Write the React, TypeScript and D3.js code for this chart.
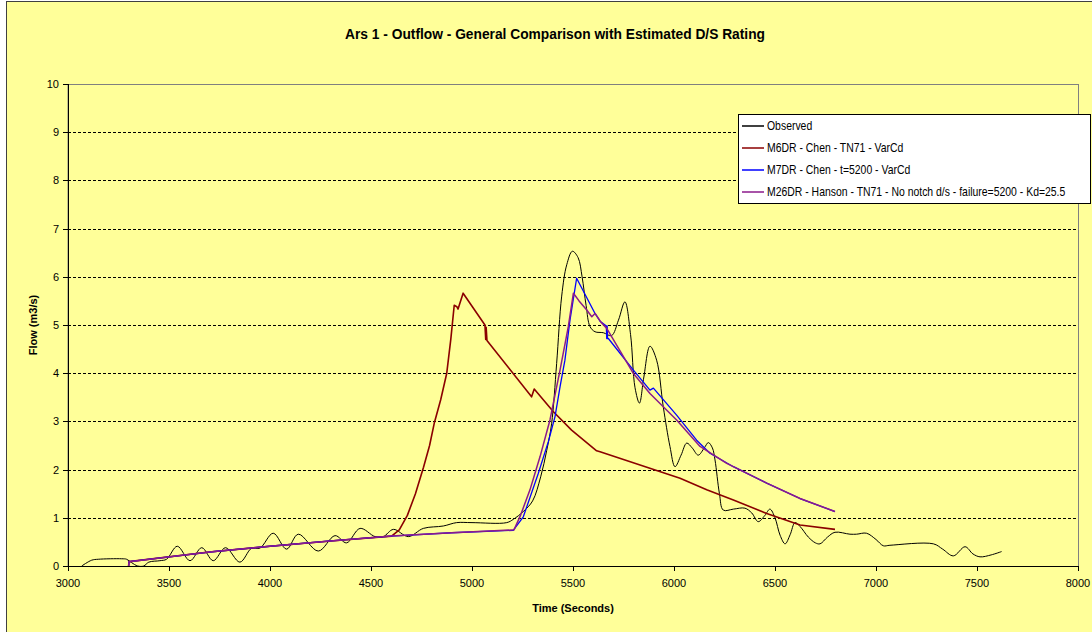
import React from 'react';
import * as d3 from 'd3';

// ---- data ----
const title = 'Ars 1 - Outflow - General Comparison with Estimated D/S Rating';
const xLabel = 'Time (Seconds)';
const yLabel = 'Flow (m3/s)';
const xTicks = [3000, 3500, 4000, 4500, 5000, 5500, 6000, 6500, 7000, 7500, 8000];
const yTicks = [0, 1, 2, 3, 4, 5, 6, 7, 8, 9, 10];
const seriesNames = [
  'Observed',
  'M6DR - Chen - TN71 - VarCd',
  'M7DR - Chen - t=5200 - VarCd',
  'M26DR - Hanson - TN71 - No notch d/s - failure=5200 - Kd=25.5',
];

const observed: [number, number][] = [
  [3068, 0], [3117, 0.12], [3150, 0.14], [3266, 0.15], [3290, 0.14], [3315, 0.07], [3345, 0.0],
  [3375, 0.0], [3400, 0.08], [3455, 0.11], [3488, 0.14], [3541, 0.41], [3604, 0.11], [3662, 0.38],
  [3719, 0.11], [3780, 0.38], [3851, 0.08], [3909, 0.37], [3950, 0.37], [4016, 0.68], [4082, 0.35],
  [4140, 0.66], [4239, 0.31], [4322, 0.63], [4379, 0.48], [4446, 0.78], [4520, 0.61], [4561, 0.61],
  [4611, 0.76], [4685, 0.61], [4759, 0.78], [4858, 0.83], [4924, 0.9], [5000, 0.9], [5172, 0.9],
  [5205, 0.97], [5254, 1.13], [5300, 1.35], [5340, 1.85], [5370, 2.4], [5394, 2.95], [5419, 4.2],
  [5444, 5.6], [5469, 6.25], [5497, 6.53], [5525, 6.4], [5545, 6.0], [5565, 5.4], [5584, 4.97],
  [5609, 4.86], [5650, 4.84], [5691, 4.78], [5725, 5.1], [5757, 5.48], [5785, 4.8], [5807, 3.7],
  [5829, 3.38], [5850, 3.9], [5881, 4.56], [5914, 4.27], [5947, 3.3], [5980, 2.48], [6005, 2.06],
  [6035, 2.3], [6063, 2.55], [6090, 2.45], [6120, 2.3], [6150, 2.45], [6170, 2.56], [6190, 2.45],
  [6203, 2.2], [6225, 1.5], [6244, 1.16], [6294, 1.18], [6351, 1.2], [6385, 1.1], [6417, 0.92],
  [6450, 1.05], [6475, 1.18], [6500, 1.0], [6525, 0.64], [6550, 0.46], [6575, 0.65], [6599, 0.9],
  [6624, 0.82], [6665, 0.6], [6700, 0.48], [6723, 0.46], [6760, 0.6], [6797, 0.7], [6871, 0.66],
  [6904, 0.66], [6953, 0.68], [7000, 0.55], [7036, 0.42], [7069, 0.43], [7284, 0.46], [7330, 0.35],
  [7383, 0.21], [7441, 0.4], [7480, 0.25], [7515, 0.19], [7570, 0.23], [7622, 0.3],
];

const m6dr: [number, number][] = [
  [3300, 0], [3302, 0.09], [3700, 0.29], [4000, 0.41], [4300, 0.52], [4602, 0.62], [4640, 0.75],
  [4680, 1.05], [4720, 1.5], [4760, 2.05], [4790, 2.5], [4813, 2.96], [4845, 3.45], [4875, 4.0],
  [4895, 4.7], [4912, 5.41], [4925, 5.38], [4931, 5.33], [4940, 5.45], [4956, 5.66], [5064, 5.0],
  [5068, 4.7], [5070, 4.95], [5074, 4.68], [5295, 3.51], [5308, 3.67], [5403, 3.2], [5493, 2.82],
  [5617, 2.39], [5634, 2.37], [6030, 1.82], [6162, 1.58], [6294, 1.37], [6459, 1.09], [6624, 0.85],
  [6797, 0.76],
];

const m7dr: [number, number][] = [
  [3300, 0], [3302, 0.09], [3700, 0.29], [4000, 0.41], [4300, 0.52], [4600, 0.62], [4900, 0.69],
  [5204, 0.74], [5254, 1.02], [5328, 1.92], [5378, 2.58], [5411, 3.1], [5436, 3.72], [5460, 4.27],
  [5485, 5.1], [5518, 5.97], [5609, 5.24], [5634, 5.08], [5665, 4.98], [5667, 4.72], [5669, 4.98],
  [5671, 4.72], [5675, 4.72], [5798, 4.07], [5881, 3.65], [5898, 3.69], [6013, 3.13], [6112, 2.61],
  [6178, 2.34], [6294, 2.06], [6459, 1.72], [6624, 1.4], [6797, 1.13],
];

const m26dr: [number, number][] = [
  [3300, 0], [3302, 0.09], [3700, 0.29], [4000, 0.41], [4300, 0.52], [4600, 0.62], [4900, 0.69],
  [5208, 0.75], [5240, 1.05], [5287, 1.58], [5337, 2.27], [5386, 3.03], [5436, 4.07], [5477, 4.97],
  [5502, 5.66], [5530, 5.5], [5568, 5.31], [5593, 5.17], [5609, 5.24], [5640, 5.05], [5667, 4.93],
  [5798, 4.0], [5881, 3.58], [6013, 3.03], [6129, 2.48], [6261, 2.13], [6459, 1.72], [6624, 1.4],
  [6797, 1.13],
];

const seriesColors = ['#000000', '#8b0000', '#0000ff', '#8b1a8b'];

// ---- layout ----
const W = 1092;
const H = 632;
const plot = { left: 68, right: 1078, top: 84, bottom: 566 };
const font = "'Liberation Sans', Arial, sans-serif";

export default function App() {
  const x = d3.scaleLinear().domain([3000, 8000]).range([plot.left, plot.right]);
  const y = d3.scaleLinear().domain([0, 10]).range([plot.bottom, plot.top]);

  const smooth = d3
    .line<[number, number]>()
    .x((d) => x(d[0]))
    .y((d) => y(d[1]))
    .curve(d3.curveCatmullRom.alpha(0.5));
  const straight = d3
    .line<[number, number]>()
    .x((d) => x(d[0]))
    .y((d) => y(d[1]));

  const lines = [
    { d: smooth(observed), color: seriesColors[0], w: 1 },
    { d: straight(m6dr), color: seriesColors[1], w: 1.6 },
    { d: straight(m7dr), color: seriesColors[2], w: 1.3 },
    { d: straight(m26dr), color: seriesColors[3], w: 1.5 },
  ];

  const legend = { x: 738, y: 114, w: 352, h: 89 };
  const legendScale = 0.87;

  return (
    <svg
      width={W}
      height={H}
      style={{ position: 'absolute', left: 0, top: 0, display: 'block' }}
      xmlns="http://www.w3.org/2000/svg"
    >
      <rect x={0} y={0} width={W} height={H} fill="#ffffff" />
      <rect x={6.5} y={1.5} width={W + 20} height={H + 20} fill="#ffff99" stroke="#404040" strokeWidth={1} />

      <text
        x={555}
        y={39}
        textAnchor="middle"
        fontFamily={font}
        fontSize={14}
        fontWeight="bold"
        fill="#000"
        textLength={420}
        lengthAdjust="spacingAndGlyphs"
      >
        {title}
      </text>

      {/* plot border (top/right) */}
      <rect
        x={plot.left}
        y={plot.top + 0.5}
        width={plot.right - plot.left + 0.5}
        height={plot.bottom - plot.top}
        fill="none"
        stroke="#808080"
        strokeWidth={1}
      />

      {/* gridlines */}
      {yTicks
        .filter((t) => t > 0 && t < 10)
        .map((t) => (
          <line
            key={'g' + t}
            x1={plot.left}
            x2={plot.right}
            y1={Math.round(y(t)) + 0.5}
            y2={Math.round(y(t)) + 0.5}
            stroke="#000"
            strokeWidth={1}
            strokeDasharray="3,2"
          />
        ))}

      {/* axes */}
      <line x1={plot.left + 0.5} x2={plot.left + 0.5} y1={plot.top} y2={plot.bottom} stroke="#000" />
      <line x1={plot.left} x2={plot.right} y1={plot.bottom + 0.5} y2={plot.bottom + 0.5} stroke="#000" />

      {yTicks.map((t) => (
        <g key={'y' + t}>
          <line
            x1={plot.left - 5}
            x2={plot.left}
            y1={Math.round(y(t)) + 0.5}
            y2={Math.round(y(t)) + 0.5}
            stroke="#000"
          />
          <text x={plot.left - 9} y={y(t) + 4} textAnchor="end" fontFamily={font} fontSize={11} fill="#000">
            {t}
          </text>
        </g>
      ))}

      {xTicks.map((t) => (
        <g key={'x' + t}>
          <line
            x1={Math.round(x(t)) + 0.5}
            x2={Math.round(x(t)) + 0.5}
            y1={plot.bottom}
            y2={plot.bottom + 5}
            stroke="#000"
          />
          <text x={x(t)} y={plot.bottom + 21} textAnchor="middle" fontFamily={font} fontSize={11} fill="#000">
            {t}
          </text>
        </g>
      ))}

      <text x={573} y={612} textAnchor="middle" fontFamily={font} fontSize={11} fontWeight="bold" fill="#000">
        {xLabel}
      </text>
      <text
        transform={`translate(37, ${(plot.top + plot.bottom) / 2}) rotate(-90)`}
        textAnchor="middle"
        fontFamily={font}
        fontSize={11}
        fontWeight="bold"
        fill="#000"
      >
        {yLabel}
      </text>

      {/* series */}
      <g>
        {lines.map((l, i) => (
          <path key={'s' + i} d={l.d || ''} fill="none" stroke={l.color} strokeWidth={l.w} strokeLinejoin="round" />
        ))}
      </g>

      {/* legend */}
      <rect
        x={legend.x + 0.5}
        y={legend.y + 0.5}
        width={legend.w}
        height={legend.h}
        fill="#ffffff"
        stroke="#000"
        strokeWidth={1}
      />
      {seriesNames.map((name, i) => {
        const cy = legend.y + 12 + i * 22;
        return (
          <g key={'l' + i}>
            <line x1={legend.x + 4} x2={legend.x + 26} y1={cy} y2={cy} stroke={seriesColors[i]} strokeWidth={1.5} />
            <text
              transform={`translate(${legend.x + 29}, ${cy + 4}) scale(${legendScale}, 1)`}
              fontFamily={font}
              fontSize={12}
              fill="#000"
            >
              {name}
            </text>
          </g>
        );
      })}
    </svg>
  );
}
